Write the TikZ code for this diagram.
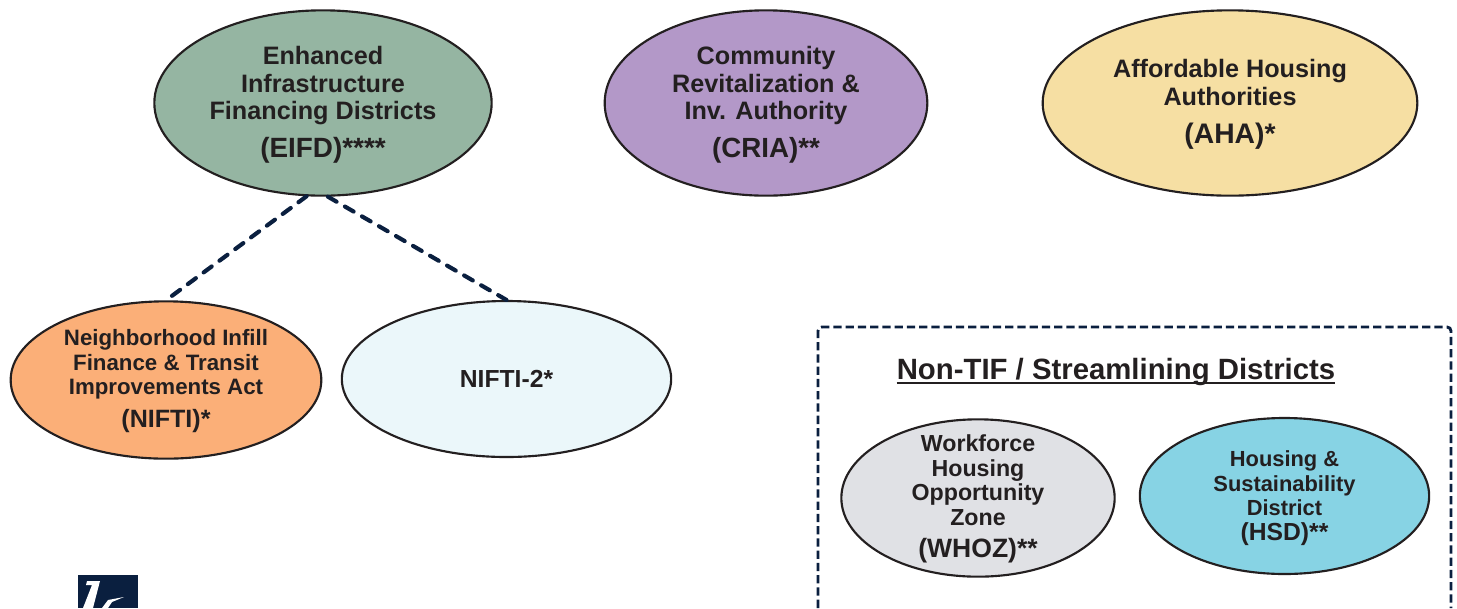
\documentclass[tikz,border=0pt]{standalone}
\usepackage{fontspec}
\setmainfont{Liberation Sans}
\usetikzlibrary{shapes.geometric}
\definecolor{inkdark}{HTML}{231F20}
\definecolor{navy}{HTML}{0A1F3F}
\definecolor{eifdgreen}{HTML}{95B5A2}
\definecolor{criapurple}{HTML}{B398C8}
\definecolor{ahayellow}{HTML}{F6DFA3}
\definecolor{niftiorange}{HTML}{FBAF78}
\definecolor{niftipale}{HTML}{EBF7FA}
\definecolor{whozgrey}{HTML}{E0E1E5}
\definecolor{hsdblue}{HTML}{87D3E4}
\newcommand{\acro}[2]{{\fontsize{#1}{10}\selectfont #2}}

\begin{document}
\begin{tikzpicture}
  [x=.75pt,y=-.75pt,
   district/.style={ellipse,draw=inkdark,line width=1.6pt,inner sep=-20pt,
     align=center,text=inkdark,font=\bfseries},
   big/.style={district,font=\fontsize{18.9}{20.6}\bfseries\selectfont},
   mid/.style={district,font=\fontsize{16.7}{18.4}\bfseries\selectfont},
   link/.style={navy,line width=3.1pt,line cap=round,dash pattern=on 7.5pt off 7.25pt}]
  \useasboundingbox (0,0) rectangle (1457,608);

  \node[big,fill=eifdgreen,minimum width=253pt,minimum height=139pt] (eifd) at (323,103)
    {\rule{0pt}{16.8pt}Enhanced\\Infrastructure\\Financing Districts\\[8pt]\acro{20.9}{(EIFD)****}};
  \node[big,fill=criapurple,minimum width=242pt,minimum height=139pt] (cria) at (766,103)
    {\rule{0pt}{16.8pt}Community\\Revitalization \&\\Inv. Authority\\[8pt]\acro{20.8}{(CRIA)**}};
  \node[big,fill=ahayellow,minimum width=281pt,minimum height=139pt] (aha) at (1230,103)
    {\rule{0pt}{15.5pt}Affordable Housing\\Authorities\\[8pt]\acro{21.2}{(AHA)*}};

  \node[mid,fill=niftiorange,minimum width=233pt,minimum height=118pt] (nifti) at (166,380)
    {\rule{0pt}{13.7pt}Neighborhood Infill\\Finance \& Transit\\Improvements Act\\[6pt]\acro{18.8}{(NIFTI)*}};
  \node[mid,fill=niftipale,minimum width=247pt,minimum height=117pt,
    font=\fontsize{18.5}{20}\bfseries\selectfont] (niftitwo) at (506.5,379)
    {NIFTI-2*};

  \foreach \from/\to in {eifd.260/nifti.90,eifd.273/niftitwo.90}
    \draw[link] (\from) -- (\to);

  % dashed frame runs off the page
  \coordinate (boxbl) at (818,608);
  \coordinate (boxtl) at (818,327);
  \coordinate (boxtr) at (1451,327);
  \coordinate (boxbr) at (1451,608);
  \draw[navy,line width=2.2pt,dash pattern=on 6.2pt off 3pt,rounded corners=3pt]
    (boxbl) -- (boxtl) -- (boxtr) -- (boxbr);

  \node[text=inkdark,inner sep=0pt,anchor=base,font=\fontsize{22}{24}\bfseries\selectfont] (title) at (1116,379.5)
    {Non-TIF / Streamlining Districts};
  \draw[inkdark,line width=1.7pt] ([yshift=-2.7pt]title.base west) -- ([yshift=-2.7pt]title.base east);

  \node[mid,fill=whozgrey,minimum width=205pt,minimum height=118pt,
    font=\fontsize{17.4}{18.4}\bfseries\selectfont] (whoz) at (978,498)
    {\rule{0pt}{14.5pt}Workforce\\Housing\\Opportunity\\Zone\\[6pt]\acro{19.9}{(WHOZ)**}};
  \node[mid,fill=hsdblue,minimum width=217pt,minimum height=117pt,
    font=\fontsize{16.4}{18.3}\bfseries\selectfont] (hsd) at (1284.5,496)
    {\rule{0pt}{15pt}Housing \&\\Sustainability\\District\\\acro{18.5}{(HSD)**}};

  % logo, cut by the page edge
  \fill[navy] (78,575) rectangle (138,608);
  \fill[white] (87,581) -- (100,581) -- (93,608) -- (83,608) -- (92,585) -- (86,585) -- cycle;
  \fill[white] (102,608) -- (108,600) -- (124,597) -- (112,602) -- (108,608) -- cycle;
\end{tikzpicture}
\end{document}
